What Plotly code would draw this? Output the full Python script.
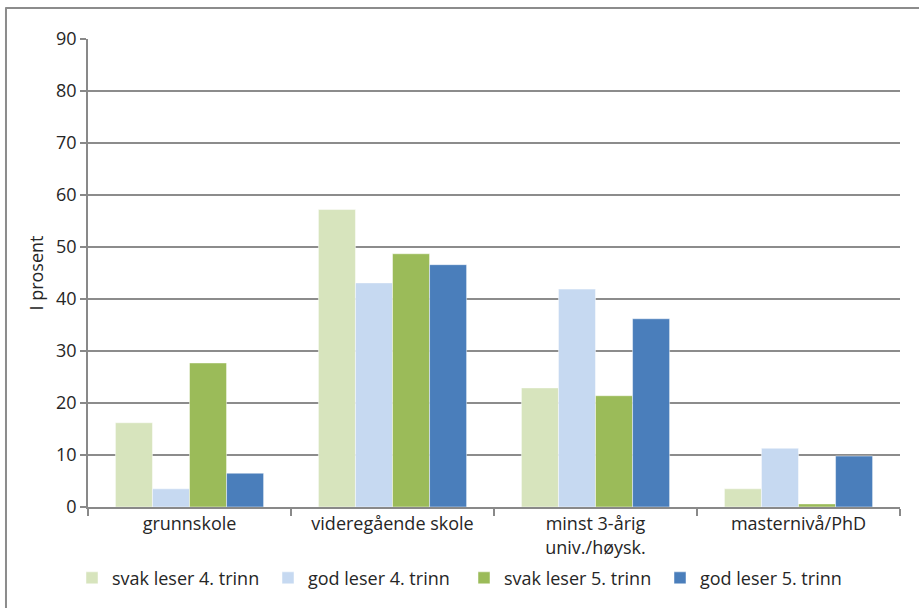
import plotly.graph_objects as go

categories = ["grunnskole", "videregående skole", "minst 3-årig<br>univ./høysk.", "masternivå/PhD"]
series_names = ["svak leser 4. trinn", "god leser 4. trinn", "svak leser 5. trinn", "god leser 5. trinn"]
svak4 = [16.2, 57.2, 22.9, 3.5]
god4 = [3.5, 43.1, 41.9, 11.3]
svak5 = [27.7, 48.7, 21.4, 0.6]
god5 = [6.5, 46.6, 36.2, 9.8]
colors = ["#D7E4BD", "#C6D9F1", "#9BBB59", "#4A7EBB"]
y_ticks = [0, 10, 20, 30, 40, 50, 60, 70, 80, 90]

FONT = "Open Sans"
FS = 18
fig = go.Figure()
for name, vals, c in zip(series_names, [svak4, god4, svak5, god5], colors):
    fig.add_trace(go.Bar(x=categories, y=vals, name=name,
                         marker=dict(color=c, line=dict(color="rgba(255,255,255,0.6)", width=0.8))))

fig.update_layout(
    width=919, height=608,
    template="none",
    paper_bgcolor="white", plot_bgcolor="white",
    margin=dict(l=88, r=19, t=39, b=101, autoexpand=False),
    barmode="group", bargap=0.27, bargroupgap=0,
    font=dict(family=FONT, size=FS, color="#262626"),
    showlegend=True,
    legend=dict(orientation="h", x=-0.0197, xanchor="left", y=-0.152, yanchor="middle",
                entrywidth=151, entrywidthmode="pixels", itemwidth=30,
                font=dict(family=FONT, size=FS, color="#262626"), traceorder="normal"),
    xaxis=dict(type="category", showline=True, linecolor="#898989", linewidth=1.5,
               ticks="outside", tickson="boundaries", ticklen=7, tickcolor="#898989", tickwidth=1.5,
               showgrid=False, tickfont=dict(size=FS)),
    yaxis=dict(range=[0, 90], tickvals=y_ticks, showline=True, linecolor="#898989", linewidth=1.5,
               ticks="outside", ticklen=6, tickcolor="#898989", tickwidth=1.5,
               showgrid=True, gridcolor="#8C8C8C", gridwidth=1.5, zeroline=False,
               tickfont=dict(size=FS),
               title=dict(text="I prosent", font=dict(size=FS), standoff=8)),
    shapes=[
        dict(type="line", xref="paper", yref="paper", x0=-0.102, x1=1.03, y0=1.066, y1=1.066,
             line=dict(color="#8C8C8C", width=2)),
        dict(type="line", xref="paper", yref="paper", x0=-0.101, x1=-0.101, y0=1.066, y1=-0.25,
             line=dict(color="#8C8C8C", width=2)),
    ],
)
fig.write_html("out.html", config={"displayModeBar": False},
               post_script="document.body.style.margin='0px';")
